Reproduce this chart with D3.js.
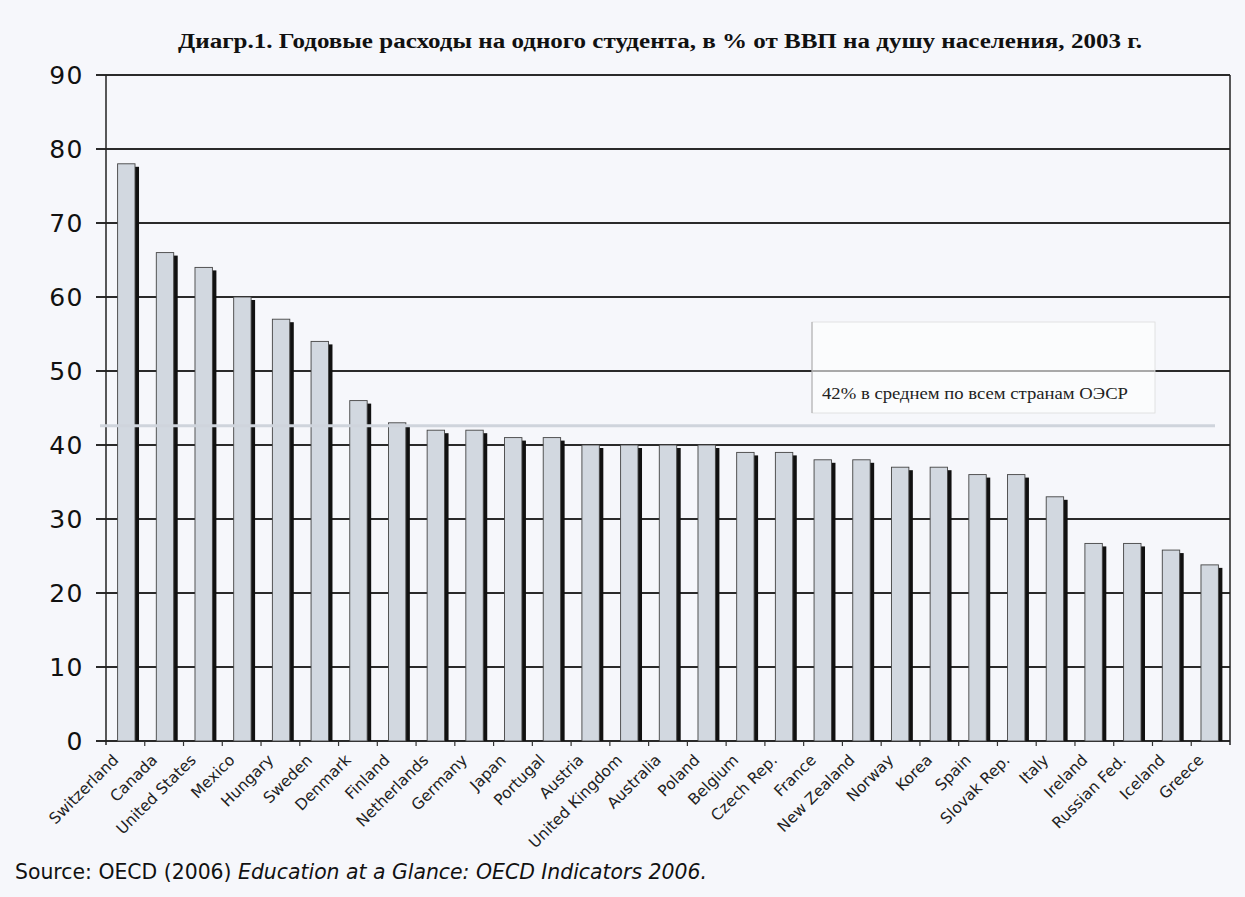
<!DOCTYPE html>
<html><head><meta charset="utf-8">
<script src="https://cdn.jsdelivr.net/npm/d3@7"></script>
<style>html,body{margin:0;padding:0;background:#f6f7fb;}svg{display:block;}</style>
</head><body>
<svg id="c" width="1245" height="897"></svg>
<script>
const countries = ["Switzerland","Canada","United States","Mexico","Hungary","Sweden","Denmark","Finland","Netherlands","Germany","Japan","Portugal","Austria","United Kingdom","Australia","Poland","Belgium","Czech Rep.","France","New Zealand","Norway","Korea","Spain","Slovak Rep.","Italy","Ireland","Russian Fed.","Iceland","Greece"];
const values = [78,66,64,60,57,54,46,43,42,42,41,41,40,40,40,40,39,39,38,38,37,37,36,36,33,26.7,26.7,25.8,23.8];
const yTicks = [0,10,20,30,40,50,60,70,80,90];
const oecdAverage = 42.6;
const titleText = "Диагр.1. Годовые расходы на одного студента, в % от ВВП на душу населения, 2003 г.";
const noteText = "42% в среднем по всем странам ОЭСР";
const sourcePlain = "Source: OECD (2006) ";
const sourceItalic = "Education at a Glance: OECD Indicators 2006.";

const svg = d3.select("#c");
const m = {left:106, right:1230, top:75, bottom:741};
const x = d3.scaleBand().domain(countries).range([m.left, m.right]).paddingInner(0.55).paddingOuter(0.3);
const xb = d3.scaleBand().domain(countries).range([m.left, m.right]);
const y = d3.scaleLinear().domain([0,90]).range([m.bottom, m.top]);

svg.append("rect").attr("width",1245).attr("height",897).attr("fill","#f6f7fb");

// title
svg.append("text").attr("x",660).attr("y",48).attr("text-anchor","middle")
  .attr("font-family","'Liberation Serif', serif").attr("font-weight","bold").attr("font-size",20)
  .attr("textLength",964).attr("lengthAdjust","spacingAndGlyphs").attr("fill","#111").text(titleText);

// gridlines
svg.append("g").selectAll("line").data(yTicks).join("line")
  .attr("x1",96).attr("x2",m.right).attr("y1",d=>y(d)).attr("y2",d=>y(d))
  .attr("stroke","#2a2a2a").attr("stroke-width",1.8);

// y labels
svg.append("g").selectAll("text").data(yTicks).join("text")
  .attr("x",84).attr("y",d=>y(d)+9).attr("text-anchor","end")
  .attr("font-family","'DejaVu Sans', sans-serif").attr("font-size",25).attr("letter-spacing",1.5)
  .attr("fill","#111").text(d=>d);

// axis lines
svg.append("line").attr("x1",m.left).attr("x2",m.left).attr("y1",m.top).attr("y2",m.bottom+4).attr("stroke","#222").attr("stroke-width",1.5);
svg.append("line").attr("x1",m.right).attr("x2",m.right).attr("y1",m.top).attr("y2",m.bottom+4).attr("stroke","#222").attr("stroke-width",1.5);
// x ticks
svg.append("g").selectAll("line").data(countries.slice(1)).join("line")
  .attr("x1",d=>xb(d)).attr("x2",d=>xb(d)).attr("y1",m.bottom).attr("y2",m.bottom+5)
  .attr("stroke","#333").attr("stroke-width",1.2);

// annotation box
svg.append("rect").attr("x",812).attr("y",322).attr("width",343).attr("height",91)
  .attr("fill","#ffffff").attr("fill-opacity",0.6).attr("stroke","#ddd").attr("stroke-width",0.8);
svg.append("line").attr("x1",812).attr("x2",812).attr("y1",322).attr("y2",413).attr("stroke","#999").attr("stroke-width",0.8);

// bars: shadow then bar
const bars = svg.append("g");
bars.selectAll("rect.sh").data(values).join("rect").attr("class","sh")
  .attr("x",(d,i)=>x(countries[i])+4).attr("y",d=>y(d)+3)
  .attr("width",x.bandwidth()).attr("height",d=>m.bottom-y(d)-3).attr("fill","#111");
bars.selectAll("rect.b").data(values).join("rect").attr("class","b")
  .attr("x",(d,i)=>x(countries[i])).attr("y",d=>y(d))
  .attr("width",x.bandwidth()).attr("height",d=>m.bottom-y(d))
  .attr("fill","#d2d8e0").attr("stroke","#444").attr("stroke-width",0.9);

// average line
svg.append("line").attr("x1",100).attr("x2",1215).attr("y1",y(oecdAverage)).attr("y2",y(oecdAverage))
  .attr("stroke","#cfd4dc").attr("stroke-width",3);

svg.append("text").attr("x",822).attr("y",399)
  .attr("font-family","'Liberation Serif', serif").attr("font-size",17)
  .attr("textLength",306).attr("lengthAdjust","spacingAndGlyphs").attr("fill","#222").text(noteText);

// x labels
svg.append("g").selectAll("text").data(countries).join("text")
  .attr("transform",d=>`translate(${xb(d)+xb.bandwidth()/2-6},${m.bottom+20}) rotate(-45)`)
  .attr("text-anchor","end")
  .attr("font-family","'DejaVu Sans', sans-serif").attr("font-size",15.5)
  .attr("fill","#222").text(d=>d);

// source
const src = svg.append("text").attr("x",15).attr("y",879)
  .attr("font-family","'DejaVu Sans', sans-serif").attr("font-size",20.4).attr("fill","#111");
src.append("tspan").text(sourcePlain);
src.append("tspan").attr("font-style","italic").text(sourceItalic);
</script>
</body></html>
